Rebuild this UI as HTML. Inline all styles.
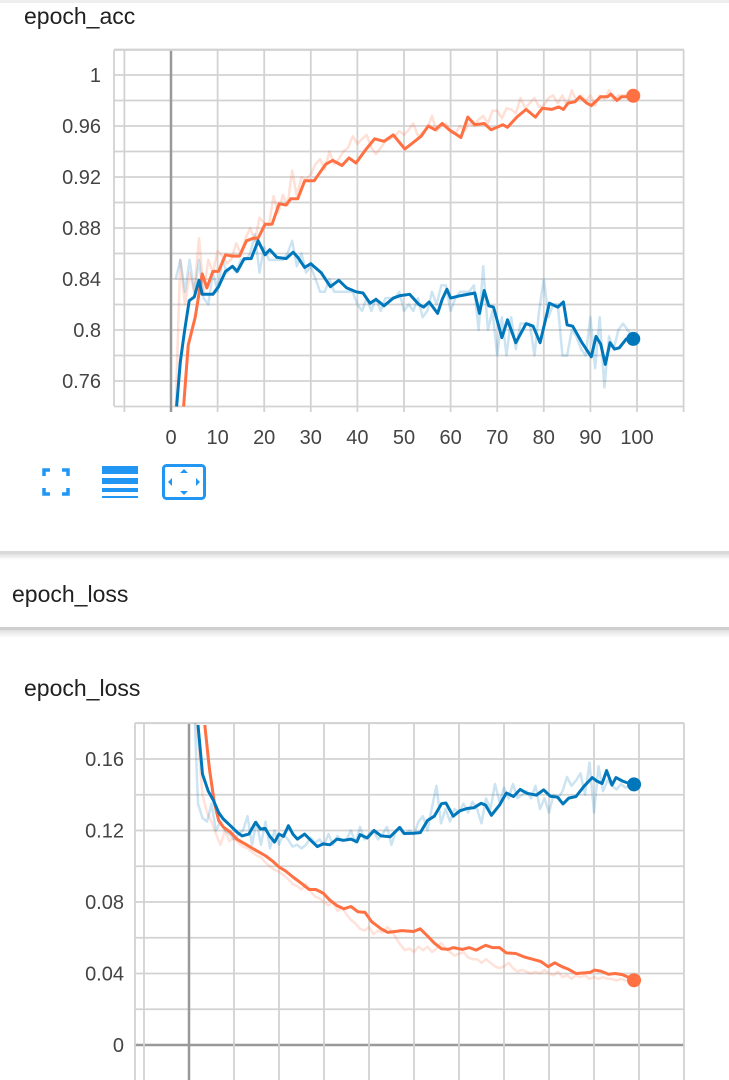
<!DOCTYPE html>
<html><head><meta charset="utf-8">
<style>
html,body{margin:0;padding:0;background:#fff;}
body{width:729px;height:1080px;overflow:hidden;position:relative;font-family:"Liberation Sans",Arial,sans-serif;}
svg{position:absolute;left:0;top:0;}
text{font-family:"Liberation Sans",Arial,sans-serif;}
</style></head>
<body>
<svg id="svg" width="729" height="1080" viewBox="0 0 729 1080">
<defs>
<clipPath id="accClip"><rect x="114" y="50" width="570" height="357"/></clipPath>
<clipPath id="lossClip"><rect x="135" y="723" width="549" height="357"/></clipPath>
<linearGradient id="shadow" x1="0" y1="0" x2="0" y2="1"><stop offset="0" stop-color="#000" stop-opacity="0.12"/><stop offset="1" stop-color="#000" stop-opacity="0"/></linearGradient>
</defs>
<rect x="0" y="0" width="729" height="3" fill="#eee"/>
<text x="24" y="24" font-size="23" fill="#212121">epoch_acc</text>
<g id="accGrid"></g>
<g id="accAxes"></g>
<g id="accMarks" clip-path="url(#accClip)"></g>

<g fill="none" stroke="#2196f3" stroke-width="3.5">
<path d="M44 476 V470 H50 M62 470 H68 V476 M68 488 V494 H62 M50 494 H44 V488"/>
</g>
<g fill="#2196f3">
<rect x="102" y="466" width="36" height="8"/><rect x="102" y="478" width="36" height="6"/><rect x="102" y="488" width="36" height="4"/><rect x="102" y="496" width="36" height="2"/>
</g>
<g>
<rect x="163.5" y="465.5" width="41" height="33" rx="3" fill="none" stroke="#2196f3" stroke-width="3"/>
<path d="M184 469 l-4 4 h8z M184 495 l-4 -4 h8z M168 482 l4 -4 v8z M200 482 l-4 -4 v8z" fill="#2196f3"/>
</g>

<rect x="0" y="551" width="729" height="3" fill="#d9d9d9"/>
<rect x="0" y="554" width="729" height="6" fill="url(#shadow)"/>
<text x="12" y="602" font-size="23" fill="#212121">epoch_loss</text>
<rect x="0" y="627" width="729" height="3" fill="#cfcfcf"/>
<rect x="0" y="630" width="729" height="8" fill="url(#shadow)"/>
<text x="24" y="696" font-size="23" fill="#212121">epoch_loss</text>
<g id="lossGrid"></g>
<g id="lossAxes"></g>
<g id="lossMarks" clip-path="url(#lossClip)"></g>
</svg>
<script>
// ---- epoch_acc data ----
const accTrainEpochs = [2.7,3.7,5.2,6.7,7.7,9,10.2,11.7,13.2,14.7,16.2,17.7,18.7,20.2,21.7,23.2,24.7,25.7,27.2,28.7,30.7,33.2,34.7,36.7,38.2,39.7,41.7,43.7,45.7,47.7,50.2,53.7,55.2,56.7,58.2,59.7,62.2,63.7,65.2,67.2,68.7,71.2,72.2,74.2,76.2,78.2,79.7,81.7,83.2,84.2,85.2,86.7,87.7,89.2,90.2,92.2,93.7,94.4,95.7,96.7,98.7,99.2];
const accTrainSmooth = [0.74,0.788,0.81,0.844,0.833,0.846,0.846,0.859,0.858,0.858,0.87,0.872,0.872,0.883,0.883,0.899,0.898,0.903,0.903,0.917,0.917,0.93,0.933,0.929,0.935,0.931,0.941,0.95,0.948,0.953,0.942,0.952,0.96,0.957,0.962,0.957,0.951,0.967,0.961,0.962,0.957,0.961,0.959,0.967,0.973,0.967,0.974,0.973,0.975,0.973,0.978,0.979,0.983,0.978,0.976,0.983,0.983,0.985,0.98,0.983,0.983,0.9837];
const accValEpochs = [1.2,2,2.9,3.9,5,6,6.7,9,10.2,11.7,13.2,14.2,15.7,17.2,18.7,20.2,21.2,22.7,24.7,26.2,27.2,28.7,30,32.2,34.2,36,37.7,39.7,41.2,42.7,44,45.7,47.7,49.2,51.2,53.2,54.2,55.4,57.2,58.2,59.2,60,62.2,65.2,66.2,67.2,68.2,69.2,71,72.2,74,76.2,77.7,79.2,81.2,83,84.2,85,86.2,88.2,90.2,91.2,92.2,93.2,94.2,95.2,96.2,97.7,99.2];
const accValSmooth = [0.74,0.775,0.799,0.823,0.826,0.839,0.828,0.828,0.834,0.846,0.85,0.846,0.856,0.856,0.87,0.859,0.863,0.857,0.856,0.861,0.857,0.849,0.852,0.845,0.834,0.839,0.833,0.830,0.829,0.821,0.824,0.819,0.825,0.827,0.828,0.820,0.818,0.822,0.813,0.824,0.832,0.825,0.827,0.829,0.813,0.831,0.819,0.818,0.794,0.808,0.790,0.805,0.803,0.790,0.821,0.818,0.822,0.804,0.803,0.790,0.779,0.795,0.789,0.773,0.790,0.785,0.786,0.793,0.793];
const accRawEpochs = [1,2,3,4,5,6,7,8,9,10,11,12,13,14,15,16,17,18,19,20,21,22,23,24,25,26,27,28,29,30,31,32,33,34,35,36,37,38,39,40,41,42,43,44,45,46,47,48,49,50,51,52,53,54,55,56,57,58,59,60,61,62,63,64,65,66,67,68,69,70,71,72,73,74,75,76,77,78,79,80,81,82,83,84,85,86,87,88,89,90,91,92,93,94,95,96,97,98,99];
const accValRaw = [0.84,0.855,0.83,0.855,0.83,0.855,0.825,0.82,0.845,0.83,0.855,0.845,0.85,0.845,0.855,0.855,0.86,0.875,0.845,0.865,0.855,0.855,0.855,0.855,0.86,0.87,0.85,0.86,0.845,0.85,0.84,0.83,0.83,0.84,0.83,0.83,0.83,0.83,0.83,0.82,0.815,0.825,0.815,0.825,0.815,0.825,0.825,0.825,0.83,0.815,0.82,0.815,0.825,0.81,0.815,0.83,0.82,0.835,0.835,0.815,0.825,0.83,0.83,0.83,0.835,0.8,0.85,0.8,0.815,0.78,0.81,0.78,0.81,0.785,0.805,0.805,0.805,0.78,0.815,0.84,0.81,0.82,0.82,0.78,0.78,0.8,0.795,0.785,0.78,0.81,0.77,0.81,0.755,0.795,0.785,0.8,0.805,0.8,0.795];
const accTrainRaw = [0.74,0.855,0.82,0.845,0.83,0.872,0.83,0.855,0.845,0.862,0.858,0.852,0.856,0.868,0.86,0.872,0.88,0.87,0.888,0.884,0.882,0.905,0.892,0.906,0.898,0.925,0.905,0.92,0.918,0.922,0.93,0.934,0.926,0.94,0.93,0.934,0.94,0.943,0.952,0.946,0.95,0.953,0.943,0.938,0.943,0.948,0.95,0.952,0.956,0.953,0.957,0.962,0.952,0.955,0.958,0.968,0.956,0.96,0.962,0.955,0.954,0.96,0.956,0.962,0.96,0.965,0.968,0.962,0.972,0.972,0.966,0.974,0.973,0.97,0.982,0.974,0.978,0.982,0.975,0.976,0.982,0.984,0.978,0.984,0.976,0.988,0.98,0.984,0.98,0.984,0.976,0.984,0.981,0.988,0.98,0.984,0.984,0.984,0.984];
const accXTicks = [0,10,20,30,40,50,60,70,80,90,100];
const accYTicks = [0.76,0.8,0.84,0.88,0.92,0.96,1];
const accYTickLabels = ["0.76","0.8","0.84","0.88","0.92","0.96","1"];

// ---- epoch_loss data ----
const lossTrainEpochs = [3.5,4.5,5.6,6.6,7.6,9.2,10.7,12.8,14.8,16.9,18.5,20,21.5,23.1,25.2,26.7,28.2,29.8,31.3,32.9,34.4,36,37.5,39.1,40.6,42.7,44.2,45.8,47.3,49.9,51.4,53,54.5,56.1,57.6,58.7,60.7,62.3,63.8,65.9,67.4,69,70.5,72.6,74.6,76.7,78.2,79.8,81.3,82.9,84.4,86,87.5,89.1,90.1,91.6,93.2,94.7,96.3,98.4,98.9];
const lossTrainSmooth = [0.179,0.155,0.136,0.1256,0.122,0.119,0.115,0.112,0.109,0.106,0.103,0.0996,0.0973,0.094,0.090,0.087,0.087,0.085,0.081,0.078,0.0762,0.0775,0.0746,0.0742,0.069,0.065,0.063,0.0635,0.064,0.0635,0.065,0.061,0.057,0.0538,0.0535,0.0545,0.0535,0.0545,0.0531,0.0558,0.0545,0.0545,0.0515,0.0512,0.0492,0.0477,0.0467,0.0438,0.046,0.0438,0.0423,0.040,0.0403,0.0406,0.0419,0.0413,0.0396,0.04,0.0394,0.0371,0.0362];
const lossValEpochs = [2,3,4.3,5.4,6.6,7.6,9.2,10.7,11.8,13.3,14.8,15.9,16.9,17.9,19,20,21,22.1,23.1,24.1,25.7,27.2,28.5,29.8,31.3,32.9,34.4,36,37.3,38,39.6,41.1,42.7,44.7,46.8,47.8,49.9,51.4,53,54.5,56.1,57.1,58.7,60.2,61.8,63.3,64.9,65.9,67.2,69,70.5,72.1,73.6,75.1,77.2,78.8,80.3,81.9,83.1,84.4,86,87.8,89.6,90.6,91.8,92.8,94,94.9,96.3,98.4,98.9];
const lossValSmooth = [0.179,0.1515,0.142,0.137,0.130,0.1265,0.1227,0.119,0.117,0.118,0.1246,0.1208,0.1212,0.117,0.1135,0.118,0.1167,0.1227,0.118,0.1152,0.118,0.1142,0.111,0.1125,0.112,0.1152,0.1145,0.1152,0.1137,0.1177,0.1158,0.12,0.117,0.1165,0.1217,0.1183,0.1185,0.1188,0.1256,0.128,0.135,0.1354,0.128,0.1310,0.1323,0.1327,0.1352,0.1342,0.1285,0.1342,0.141,0.1390,0.143,0.1408,0.1398,0.1427,0.1392,0.1387,0.1348,0.1381,0.139,0.1448,0.1496,0.1477,0.1463,0.1535,0.1454,0.1496,0.1477,0.1458,0.1458];
const lossRawEpochs = [1,2,3,4,5,6,7,8,9,10,11,12,13,14,15,16,17,18,19,20,21,22,23,24,25,26,27,28,29,30,31,32,33,34,35,36,37,38,39,40,41,42,43,44,45,46,47,48,49,50,51,52,53,54,55,56,57,58,59,60,61,62,63,64,65,66,67,68,69,70,71,72,73,74,75,76,77,78,79,80,81,82,83,84,85,86,87,88,89,90,91,92,93,94,95,96,97,98,99];
const lossValRaw = [0.2,0.135,0.127,0.125,0.135,0.12,0.125,0.12,0.118,0.115,0.118,0.12,0.128,0.112,0.125,0.112,0.125,0.11,0.12,0.112,0.118,0.115,0.111,0.112,0.11,0.112,0.116,0.113,0.115,0.112,0.118,0.112,0.117,0.114,0.115,0.12,0.113,0.122,0.115,0.118,0.12,0.115,0.118,0.122,0.112,0.12,0.122,0.118,0.12,0.118,0.125,0.128,0.12,0.133,0.145,0.124,0.132,0.125,0.132,0.13,0.135,0.13,0.136,0.132,0.124,0.138,0.132,0.146,0.136,0.144,0.138,0.146,0.138,0.14,0.142,0.138,0.145,0.132,0.138,0.13,0.14,0.138,0.142,0.15,0.145,0.148,0.152,0.14,0.158,0.13,0.156,0.142,0.148,0.145,0.143,0.146,0.144,0.145,0.146];
const lossTrainRaw = [0.2,0.17,0.14,0.13,0.125,0.118,0.112,0.12,0.114,0.116,0.113,0.111,0.11,0.108,0.106,0.105,0.102,0.1,0.098,0.097,0.095,0.093,0.09,0.089,0.087,0.09,0.086,0.083,0.082,0.08,0.078,0.08,0.075,0.077,0.073,0.07,0.068,0.065,0.064,0.066,0.062,0.064,0.063,0.066,0.064,0.06,0.056,0.053,0.054,0.052,0.055,0.053,0.055,0.052,0.054,0.057,0.054,0.052,0.05,0.051,0.052,0.049,0.048,0.048,0.046,0.048,0.046,0.044,0.043,0.044,0.046,0.043,0.041,0.042,0.041,0.04,0.041,0.04,0.042,0.04,0.039,0.041,0.038,0.039,0.037,0.039,0.038,0.039,0.037,0.038,0.037,0.038,0.037,0.037,0.036,0.037,0.036,0.037,0.036];
const lossXTicks = [0,10,20,30,40,50,60,70,80,90,100];
const lossYTicks = [0,0.04,0.08,0.12,0.16];
const lossYTickLabels = ["0","0.04","0.08","0.12","0.16"];

const NS = "http://www.w3.org/2000/svg";
function mk(tag, attrs, parent){
  const e = document.createElementNS(NS, tag);
  for (const k in attrs) e.setAttribute(k, attrs[k]);
  parent.appendChild(e);
  return e;
}
const ORANGE = "#ff7043", BLUE = "#0077bb";

function drawChart(cfg){
  const {x, y, grid, axes, left, right, top, bottom, gridStep, yMin, yMax, xTicks, yTicks, yLabels, labelRight, xLabelY, zeroLine} = cfg;
  for (let v = yMin; v <= yMax + 1e-9; v += gridStep) {
    const gy = y(v);
    const isZero = zeroLine && Math.abs(v) < 1e-9;
    const l = mk("line", {x1:left, x2:right, y1:gy, y2:gy, stroke: isZero ? "#999" : "#d2d2d2", "stroke-width": isZero ? 2.5 : 1.8}, grid);
    
    
  }
  for (let ep = -10; ep <= 110; ep += 10) {
    const gx = x(ep);
    const l = mk("line", {x1:gx, x2:gx, y1:top, y2:bottom + 6, stroke: ep === 0 ? "#999" : "#d2d2d2", "stroke-width": ep === 0 ? 2.5 : 1.8}, grid);
    
    
  }
  const b = mk("line", {x1:left, x2:left, y1:top, y2:bottom, stroke:"#d2d2d2", "stroke-width":1.8}, grid);
  
  
  const tb = mk("line", {x1:left, x2:right, y1:top, y2:top, stroke:"#d2d2d2", "stroke-width":1.8}, grid);
  
  
  if (xLabelY) {
    xTicks.forEach(t => {
      const tx = mk("text", {x:x(t), y:xLabelY, "font-size":20, fill:"#444", "text-anchor":"middle"}, axes);
      tx.textContent = String(t);
      
      
    });
  }
  yTicks.forEach((t, i) => {
    const tx = mk("text", {x:labelRight, y:y(t) + 7, "font-size":20, fill:"#444", "text-anchor":"end"}, axes);
    tx.textContent = yLabels[i];
    
    
  });
}

function path(xs, vs, x, y){
  return xs.map((e, i) => (i ? "L" : "M") + x(e).toFixed(1) + " " + y(vs[i]).toFixed(1)).join(" ");
}
function series(parent, name, xs, vs, x, y, color, width, opacity){
  const p = mk("path", {d: path(xs, vs, x, y), fill:"none", stroke:color, "stroke-width":width, "stroke-opacity":opacity, "stroke-linejoin":"round"}, parent);
  
  
}
function dot(parent, name, ep, v, x, y, color){
  const c = mk("circle", {cx:x(ep), cy:y(v), r:7, fill:color}, parent);
  
  
}

const ax = ep => 171 + ep * 4.66;
const ay = v => 75 + (1 - v) / 0.04 * 51;
drawChart({x:ax, y:ay, grid:document.getElementById('accGrid'), axes:document.getElementById('accAxes'),
  left:114, right:684, top:50, bottom:406, gridStep:0.02, yMin:0.74, yMax:1.02,
  xTicks:accXTicks, yTicks:accYTicks, yLabels:accYTickLabels, labelRight:101, xLabelY:444, zeroLine:false});
const am = document.getElementById('accMarks');
series(am, 'acc-train-raw', accRawEpochs, accTrainRaw, ax, ay, ORANGE, 2.5, 0.22);
series(am, 'acc-val-raw', accRawEpochs, accValRaw, ax, ay, BLUE, 2.5, 0.2);
series(am, 'acc-train-line', accTrainEpochs, accTrainSmooth, ax, ay, ORANGE, 3, 1);
series(am, 'acc-val-line', accValEpochs, accValSmooth, ax, ay, BLUE, 3, 1);
dot(am, 'acc-train-last-point', accTrainEpochs[accTrainEpochs.length-1], accTrainSmooth[accTrainSmooth.length-1], ax, ay, ORANGE);
dot(am, 'acc-val-last-point', accValEpochs[accValEpochs.length-1], accValSmooth[accValSmooth.length-1], ax, ay, BLUE);

const lx = ep => 189 + ep * 4.5;
const ly = v => 1045 - v / 0.04 * 71.5;
drawChart({x:lx, y:ly, grid:document.getElementById('lossGrid'), axes:document.getElementById('lossAxes'),
  left:135, right:684, top:723, bottom:1080, gridStep:0.02, yMin:0, yMax:0.18,
  xTicks:lossXTicks, yTicks:lossYTicks, yLabels:lossYTickLabels, labelRight:124, xLabelY:null, zeroLine:true});
const lm = document.getElementById('lossMarks');
series(lm, 'loss-train-raw', lossRawEpochs, lossTrainRaw, lx, ly, ORANGE, 2.5, 0.2);
series(lm, 'loss-val-raw', lossRawEpochs, lossValRaw, lx, ly, BLUE, 2.5, 0.2);
series(lm, 'loss-train-line', lossTrainEpochs, lossTrainSmooth, lx, ly, ORANGE, 3, 1);
series(lm, 'loss-val-line', lossValEpochs, lossValSmooth, lx, ly, BLUE, 3, 1);
dot(lm, 'loss-train-last-point', lossTrainEpochs[lossTrainEpochs.length-1], lossTrainSmooth[lossTrainSmooth.length-1], lx, ly, ORANGE);
dot(lm, 'loss-val-last-point', lossValEpochs[lossValEpochs.length-1], lossValSmooth[lossValSmooth.length-1], lx, ly, BLUE);
</script>
</body></html>
